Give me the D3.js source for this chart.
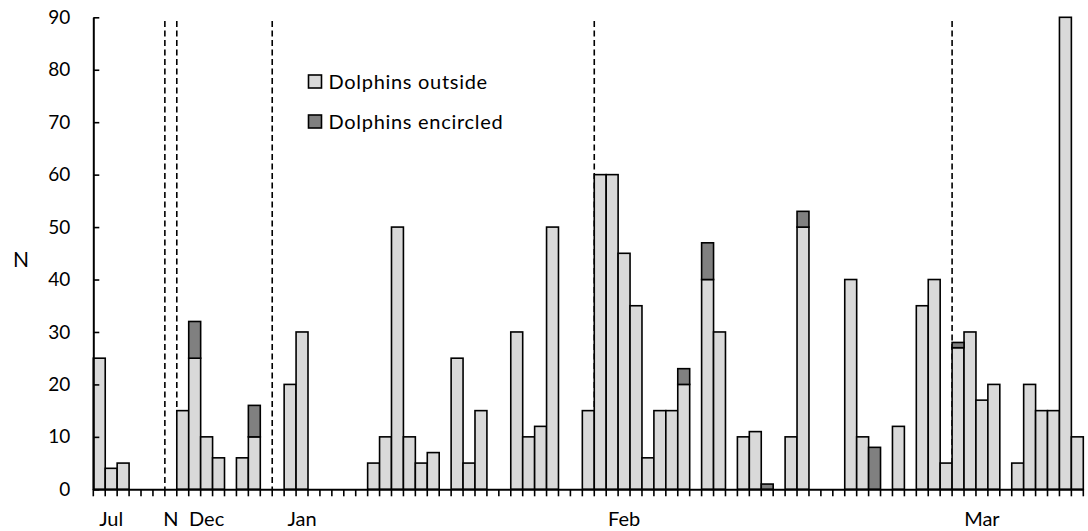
<!DOCTYPE html>
<html><head><meta charset="utf-8">
<script src="https://cdn.jsdelivr.net/npm/d3@7/dist/d3.min.js"></script>
<style>
body{margin:0;background:#fff;}
text{font-family:Lato,"Open Sans",sans-serif;fill:#000;}
</style></head>
<body><svg id="c" width="1088" height="531"></svg>
<script>
const categories = ["", "Jul", "", "", "", "", "N", "", "", "Dec", "", "", "", "", "", "", "", "Jan", "", "", "", "", "", "", "", "", "", "", "", "", "", "", "", "", "", "", "", "", "", "", "", "", "", "", "Feb", "", "", "", "", "", "", "", "", "", "", "", "", "", "", "", "", "", "", "", "", "", "", "", "", "", "", "", "", "", "Mar", "", "", "", "", "", "", "", ""];
const outside = [25,4,5,0,0,0,0,15,25,10,6,0,6,10,0,0,20,30,0,0,0,0,0,5,10,50,10,5,7,0,25,5,15,0,0,30,10,12,50,0,0,15,60,60,45,35,6,15,15,20,0,40,30,0,10,11,0,0,10,50,0,0,0,40,10,0,0,12,0,35,40,5,27,30,17,20,0,5,20,15,15,90,10];
const encircled = [0,0,0,0,0,0,0,0,7,0,0,0,0,6,0,0,0,0,0,0,0,0,0,0,0,0,0,0,0,0,0,0,0,0,0,0,0,0,0,0,0,0,0,0,0,0,0,0,0,3,0,7,0,0,0,0,1,0,0,3,0,0,0,0,0,8,0,0,0,0,0,0,1,0,0,0,0,0,0,0,0,0,0];
const seriesNames = ["Dolphins outside", "Dolphins encircled"];
const yTicks = [0,10,20,30,40,50,60,70,80,90];
const periodBreaks = [6,7,15,42,72];

(function(){
const svg = d3.select("#c");
const pl = 93.3, pr = 1083.3, pt = 17.3, pb = 489.3;
const idx = categories.map((d,i)=>i);
const x = d3.scaleBand().domain(idx).range([pl,pr]).padding(0);
const y = d3.scaleLinear().domain([0,90]).range([pb,pt]);
const colors = ["#d9d9d9","#808080"];

// dashed period lines
svg.append("g").selectAll("line").data(periodBreaks).join("line")
  .attr("x1",d=>x(d)).attr("x2",d=>x(d)).attr("y1",21).attr("y2",pb)
  .attr("stroke","#000").attr("stroke-width",1.6).attr("stroke-dasharray","6,3.5");

// stacked bars
const table = idx.map(i=>({i, outside:outside[i], encircled:encircled[i]}));
const stack = d3.stack().keys(["outside","encircled"])(table);
stack.forEach((layer,k)=>{
  svg.append("g").selectAll("rect").data(layer.filter(d=>d[1]-d[0]>0)).join("rect")
    .attr("x",d=>x(d.data.i)).attr("width",x.bandwidth())
    .attr("y",d=>y(d[1])).attr("height",d=>y(d[0])-y(d[1]))
    .attr("fill",colors[k]).attr("stroke","#000").attr("stroke-width",1.6);
});

// y axis
const ya = svg.append("g").attr("transform",`translate(${pl},0)`)
  .call(d3.axisLeft(y).tickValues(yTicks).tickSizeInner(-6).tickSizeOuter(0).tickPadding(23));
ya.select(".domain").attr("stroke-width",2);
ya.selectAll(".tick line").attr("stroke-width",1.6);
ya.selectAll("text").attr("font-size",19).attr("font-family","Lato");

// x axis
const xa = svg.append("g").attr("transform",`translate(0,${pb})`)
  .call(d3.axisBottom(x).tickFormat(i=>categories[i]).tickSize(0).tickPadding(23));
xa.select(".domain").attr("stroke-width",2);
xa.selectAll("text").attr("font-size",20).attr("font-family","Lato");
const bounds = idx.map(i=>x(i)).concat([x.range()[1]]);
xa.append("g").selectAll("line").data(bounds).join("line")
  .attr("x1",d=>d).attr("x2",d=>d).attr("y1",0).attr("y2",7)
  .attr("stroke","#000").attr("stroke-width",1.6);

// y title
svg.append("text").attr("x",21).attr("y",262).attr("text-anchor","middle")
  .attr("dominant-baseline","middle").attr("font-size",21).text("N");

// legend
const lg = svg.append("g").attr("transform","translate(308.5,75)");
seriesNames.forEach((n,k)=>{
  lg.append("rect").attr("x",0).attr("y",k*40).attr("width",13).attr("height",13)
    .attr("fill",colors[k]).attr("stroke","#000").attr("stroke-width",1.6);
  lg.append("text").attr("x",20).attr("y",k*40+14).attr("font-size",20)
    .attr("letter-spacing",0.7).text(n);
});
})();
</script></body></html>
